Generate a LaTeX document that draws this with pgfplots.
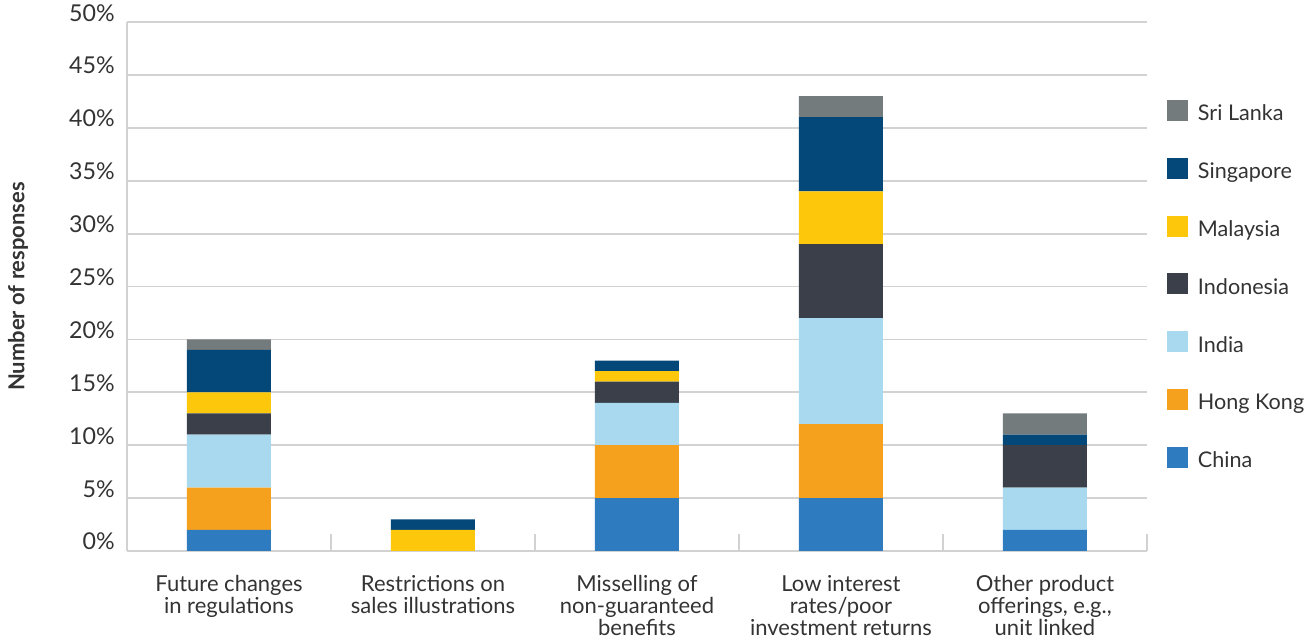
\documentclass[border=0pt]{standalone}
\usepackage{pgfplots}
\pgfplotsset{compat=1.18}
\usepackage{fontspec}
\setmainfont{Lato}

\definecolor{cChina}{HTML}{2E7BBF}
\definecolor{cHongKong}{HTML}{F6A11E}
\definecolor{cIndia}{HTML}{A9D9EF}
\definecolor{cIndonesia}{HTML}{3A3F4A}
\definecolor{cMalaysia}{HTML}{FDC70C}
\definecolor{cSingapore}{HTML}{034878}
\definecolor{cSriLanka}{HTML}{737B7D}
\definecolor{gridgray}{HTML}{D2D2D2}
\definecolor{txt}{HTML}{333333}

% Share of responses (%) per concern, by market
\pgfplotstableread{
x China HongKong India Indonesia Malaysia Singapore SriLanka
0 2 4 5  2 2 4 1
1 0 0 0  0 2 1 0
2 5 5 4  2 1 1 0
3 5 7 10 7 5 7 2
4 2 0 4  4 0 1 2
}\datatable

\begin{document}
\begin{tikzpicture}
\begin{axis}[
  at={(0,0)}, anchor=south west,
  scale only axis,
  width=510pt, height=264.5pt,
  ybar stacked,
  bar width=42pt,
  xmin=-0.5, xmax=4.5,
  ymin=0, ymax=50,
  axis lines*=left,
  axis line style={gridgray, line width=0.9pt, -},
  ymajorgrids,
  grid style={gridgray, line width=0.9pt},
  ytick={0,5,...,50},
  yticklabels={0\%,5\%,10\%,15\%,20\%,25\%,30\%,35\%,40\%,45\%,50\%},
  yticklabel style={anchor=base east, inner sep=0pt, xshift=-6pt, yshift=0.5pt,
    font=\fontsize{11.6}{12}\selectfont, text=txt},
  xtick={0,1,2,3,4},
  xticklabels={
    {Future changes\\in regulations},
    {Restrictions on\\sales illustrations},
    {Misselling of\\non-guaranteed\\benefits},
    {Low interest\\rates/poor\\investment returns},
    {Other product\\offerings, e.g.,\\unit linked}},
  xticklabel style={anchor=north, inner sep=0pt, yshift=-12pt, align=center,
    font=\fontsize{11}{11}\selectfont, text=txt},
  minor xtick={-0.5,0.5,1.5,2.5,3.5,4.5},
  major tick length=0pt,
  minor tick length=8.5pt,
  tick align=inside,
  every minor tick/.append style={gridgray, line width=0.9pt},
  ylabel={Number of responses},
  every axis y label/.style={at={(axis description cs:-0.1069,0.5)}, rotate=90,
    anchor=center, font=\bfseries\fontsize{11}{12}\selectfont, text=txt},
  reverse legend,
  legend cell align=left,
  legend image code/.code={\fill[#1] (0pt,-2.7pt) rectangle (10.5pt,7.8pt);},
  legend style={at={(axis description cs:1.0196,0.853)}, anchor=north west,
    draw=none, fill=none, inner sep=0pt, outer sep=0pt, row sep=15.9pt,
    font=\fontsize{10.8}{12}\selectfont, text=txt,
    nodes={inner sep=0pt, text height=7.8pt, text depth=2.7pt},
    /tikz/every odd column/.style={column sep=5pt}},
]
\addplot[fill=cChina, draw=none] table[x=x, y=China] {\datatable};
\addlegendentry{China}
\addplot[fill=cHongKong, draw=none] table[x=x, y=HongKong] {\datatable};
\addlegendentry{Hong Kong}
\addplot[fill=cIndia, draw=none] table[x=x, y=India] {\datatable};
\addlegendentry{India}
\addplot[fill=cIndonesia, draw=none] table[x=x, y=Indonesia] {\datatable};
\addlegendentry{Indonesia}
\addplot[fill=cMalaysia, draw=none] table[x=x, y=Malaysia] {\datatable};
\addlegendentry{Malaysia}
\addplot[fill=cSingapore, draw=none] table[x=x, y=Singapore] {\datatable};
\addlegendentry{Singapore}
\addplot[fill=cSriLanka, draw=none] table[x=x, y=SriLanka] {\datatable};
\addlegendentry{Sri Lanka}
\end{axis}
\pgfresetboundingbox
\path (-63.5pt,-45.5pt) rectangle (590pt,275.5pt);
\end{tikzpicture}
\end{document}
